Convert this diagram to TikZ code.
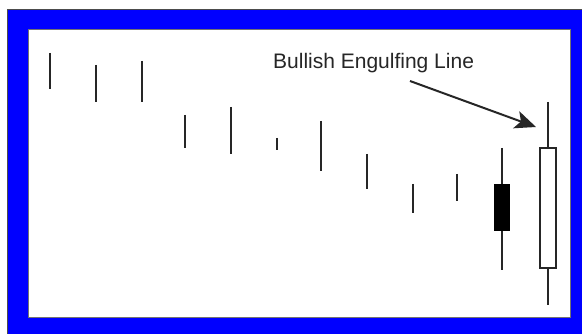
\documentclass[tikz,border=0pt]{standalone}
\usepackage{fontspec}
\setmainfont{Liberation Sans}
\usetikzlibrary{arrows.meta}
\begin{document}
\begin{tikzpicture}
		[x=1pt,y=-1pt,
		frame/.style={fill=blue,draw=black!70,line width=1pt},
		chartarea/.style={fill=white,draw=black!55,line width=1pt},
		wick/.style={draw=black!85,line width=2pt},
		bodyblack/.style={rectangle,draw=black,fill=black,line width=1pt,
inner sep=0pt,minimum width=15pt,minimum height=46pt},
		bodywhite/.style={rectangle,draw=black!85,fill=white,line width=1.5pt,
inner sep=0pt,minimum width=16pt,minimum height=120pt},
		textstyle/.style={font=\fontsize{21}{25}\selectfont,text=black!85,inner sep=0pt},
		arrowstyle/.style={-{Stealth[length=21pt,width=18pt,inset=5pt]},line width=2pt,draw=black!85}]
		\useasboundingbox (0,0) rectangle (582,334);
		\fill[white] (0,0) rectangle (582,334);
		\draw[frame] (7,10) rectangle (592,344);
		\draw[chartarea] (28,30) rectangle (570,318);
		% plain sessions
		\draw[wick] (50,53) -- (50,89);
		\draw[wick] (96,65) -- (96,102);
		\draw[wick] (142,61) -- (142,102);
		\draw[wick] (185,115) -- (185,148);
		\draw[wick] (231,107) -- (231,154);
		\draw[wick] (277,138) -- (277,150);
		\draw[wick] (321,121) -- (321,171);
		\draw[wick] (367,154) -- (367,189);
		\draw[wick] (413,184) -- (413,213);
		\draw[wick] (457,174) -- (457,201);
		% the engulfing pair
		\node at (502,207.5) (blackbody) [bodyblack] {};
		\node at (548,208) (whitebody) [bodywhite] {};
		\coordinate (blacktop) at (502,148);
		\coordinate (blackbottom) at (502,270);
		\coordinate (whitetop) at (548,102);
		\coordinate (whitebottom) at (548,305);
		\draw[wick] (blacktop) -- (blackbody.north);
		\draw[wick] (blackbody.south) -- (blackbottom);
		\draw[wick] (whitetop) -- (whitebody.north);
		\draw[wick] (whitebody.south) -- (whitebottom);
		% label
		\node at (273,69) (label) [textstyle,anchor=base west] {Bullish Engulfing Line};
		\coordinate (arrowtail) at (410,81);
		\coordinate (arrowtip) at (536,127);
		\draw[arrowstyle] (arrowtail) -- (arrowtip);
	\end{tikzpicture}
\end{document}
